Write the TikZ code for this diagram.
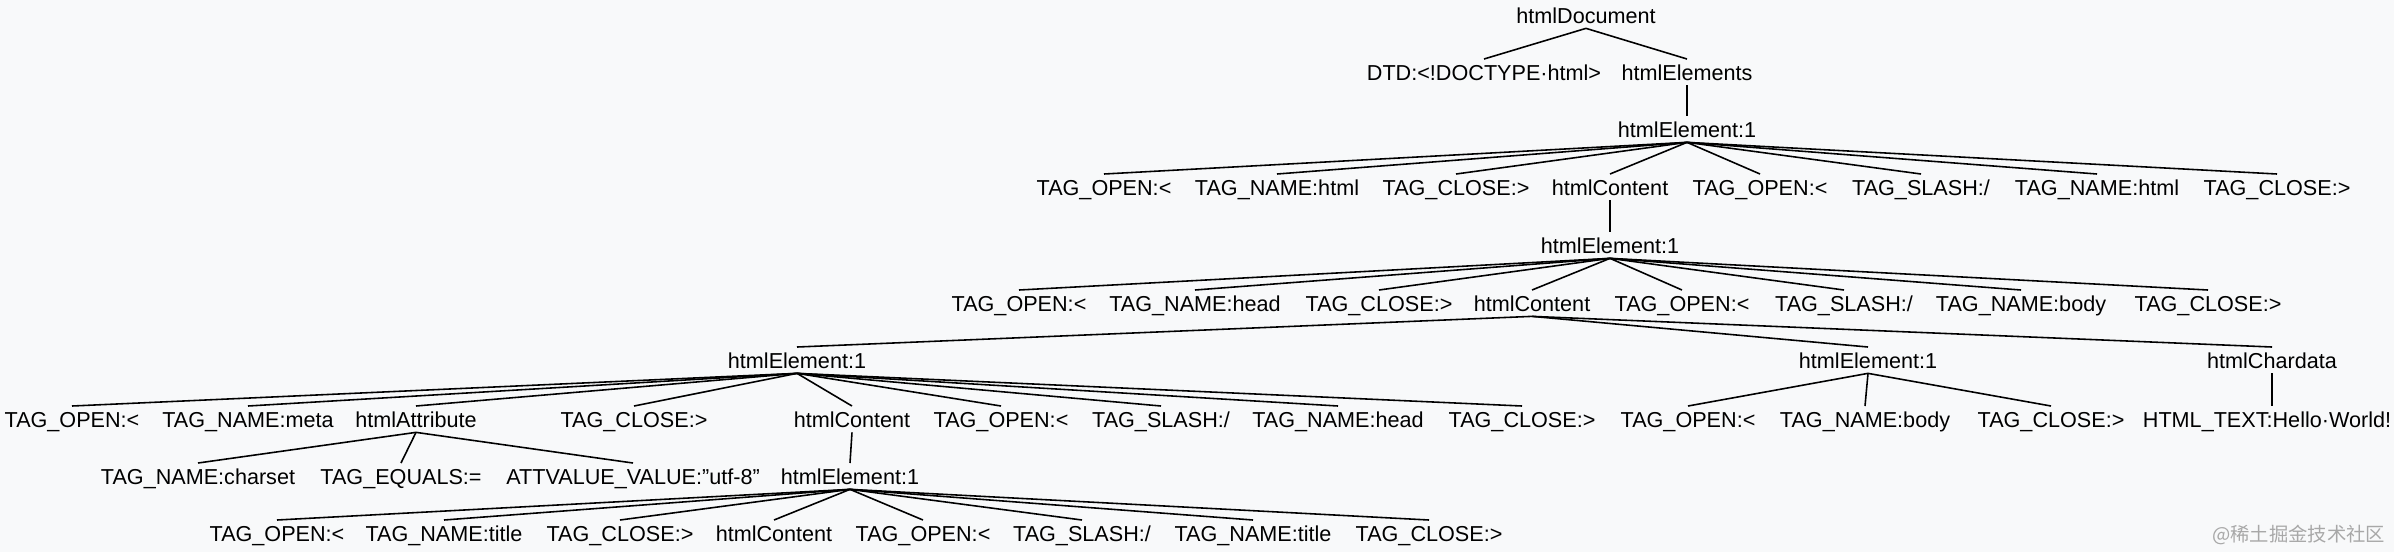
\documentclass[tikz,border=0pt]{standalone}
\usepackage{fontspec}
\setmainfont{Liberation Sans}
\newfontfamily\cjk{Noto Sans CJK SC}
\usepackage{tikz}
\definecolor{bg}{HTML}{F8F9FA}
\definecolor{mark}{HTML}{A8A8A8}
\tikzstyle{tnode} = [inner xsep=0pt, inner ysep=2.6pt, text height=8.9pt, text depth=0pt, anchor=base, font=\fontsize{12.3}{14}\selectfont]

\begin{document}
\begin{tikzpicture}[x=0.02cm, y=-0.02cm, line width=0.9pt]
\fill[bg] (0,0) rectangle (2394,552);
\useasboundingbox (0,0) rectangle (2394,552);
\node[tnode] (doc) at (1586,23) {htmlDocument};
\node[tnode] (dtd) at (1484,80) {DTD:<!DOCTYPE·html>};
\node[tnode] (elems) at (1687,80) {htmlElements};
\node[tnode] (html) at (1687,137) {htmlElement:1};
\node[tnode] (h-open) at (1104,195) {TAG\_OPEN:<};
\node[tnode] (h-name) at (1277,195) {TAG\_NAME:html};
\node[tnode] (h-close) at (1456,195) {TAG\_CLOSE:>};
\node[tnode] (h-content) at (1610,195) {htmlContent};
\node[tnode] (h-eopen) at (1760,195) {TAG\_OPEN:<};
\node[tnode] (h-slash) at (1921,195) {TAG\_SLASH:/};
\node[tnode] (h-ename) at (2097,195) {TAG\_NAME:html};
\node[tnode] (h-eclose) at (2277,195) {TAG\_CLOSE:>};
\node[tnode] (head) at (1610,253) {htmlElement:1};
\node[tnode] (hd-open) at (1019,311) {TAG\_OPEN:<};
\node[tnode] (hd-name) at (1195,311) {TAG\_NAME:head};
\node[tnode] (hd-close) at (1379,311) {TAG\_CLOSE:>};
\node[tnode] (hd-content) at (1532,311) {htmlContent};
\node[tnode] (hd-eopen) at (1682,311) {TAG\_OPEN:<};
\node[tnode] (hd-slash) at (1844,311) {TAG\_SLASH:/};
\node[tnode] (hd-ename) at (2021,311) {TAG\_NAME:body};
\node[tnode] (hd-eclose) at (2208,311) {TAG\_CLOSE:>};
\node[tnode] (meta) at (797,368) {htmlElement:1};
\node[tnode] (body) at (1868,368) {htmlElement:1};
\node[tnode] (chardata) at (2272,368) {htmlChardata};
\node[tnode] (m-open) at (72,427) {TAG\_OPEN:<};
\node[tnode] (m-name) at (248,427) {TAG\_NAME:meta};
\node[tnode] (m-attr) at (416,427) {htmlAttribute};
\node[tnode] (m-close) at (634,427) {TAG\_CLOSE:>};
\node[tnode] (m-content) at (852,427) {htmlContent};
\node[tnode] (m-eopen) at (1001,427) {TAG\_OPEN:<};
\node[tnode] (m-slash) at (1161,427) {TAG\_SLASH:/};
\node[tnode] (m-ename) at (1338,427) {TAG\_NAME:head};
\node[tnode] (m-eclose) at (1522,427) {TAG\_CLOSE:>};
\node[tnode] (b-open) at (1688,427) {TAG\_OPEN:<};
\node[tnode] (b-name) at (1865,427) {TAG\_NAME:body};
\node[tnode] (b-close) at (2051,427) {TAG\_CLOSE:>};
\node[tnode] (text) at (2267,427) {HTML\_TEXT:Hello·World!};
\node[tnode] (a-name) at (198,484) {TAG\_NAME:charset};
\node[tnode] (a-eq) at (401,484) {TAG\_EQUALS:=};
\node[tnode] (a-val) at (633,484) {ATTVALUE\_VALUE:\symbol{34}utf-8\symbol{34}};
\node[tnode] (title) at (850,484) {htmlElement:1};
\node[tnode] (t-open) at (277,541) {TAG\_OPEN:<};
\node[tnode] (t-name) at (444,541) {TAG\_NAME:title};
\node[tnode] (t-close) at (620,541) {TAG\_CLOSE:>};
\node[tnode] (t-content) at (774,541) {htmlContent};
\node[tnode] (t-eopen) at (923,541) {TAG\_OPEN:<};
\node[tnode] (t-slash) at (1082,541) {TAG\_SLASH:/};
\node[tnode] (t-ename) at (1253,541) {TAG\_NAME:title};
\node[tnode] (t-eclose) at (1429,541) {TAG\_CLOSE:>};
\node[anchor=base east, inner sep=0pt, text=mark, font=\cjk\fontsize{11}{13}\selectfont] (wm) at (2386,541) {@稀土掘金技术社区};
\draw (doc.south) -- (dtd.north);
\draw (doc.south) -- (elems.north);
\draw (elems.south) -- (html.north);
\draw (html.south) -- (h-open.north);
\draw (html.south) -- (h-name.north);
\draw (html.south) -- (h-close.north);
\draw (html.south) -- (h-content.north);
\draw (html.south) -- (h-eopen.north);
\draw (html.south) -- (h-slash.north);
\draw (html.south) -- (h-ename.north);
\draw (html.south) -- (h-eclose.north);
\draw (h-content.south) -- (head.north);
\draw (head.south) -- (hd-open.north);
\draw (head.south) -- (hd-name.north);
\draw (head.south) -- (hd-close.north);
\draw (head.south) -- (hd-content.north);
\draw (head.south) -- (hd-eopen.north);
\draw (head.south) -- (hd-slash.north);
\draw (head.south) -- (hd-ename.north);
\draw (head.south) -- (hd-eclose.north);
\draw (hd-content.south) -- (meta.north);
\draw (hd-content.south) -- (body.north);
\draw (hd-content.south) -- (chardata.north);
\draw (meta.south) -- (m-open.north);
\draw (meta.south) -- (m-name.north);
\draw (meta.south) -- (m-attr.north);
\draw (meta.south) -- (m-close.north);
\draw (meta.south) -- (m-content.north);
\draw (meta.south) -- (m-eopen.north);
\draw (meta.south) -- (m-slash.north);
\draw (meta.south) -- (m-ename.north);
\draw (meta.south) -- (m-eclose.north);
\draw (m-attr.south) -- (a-name.north);
\draw (m-attr.south) -- (a-eq.north);
\draw (m-attr.south) -- (a-val.north);
\draw (m-content.south) -- (title.north);
\draw (title.south) -- (t-open.north);
\draw (title.south) -- (t-name.north);
\draw (title.south) -- (t-close.north);
\draw (title.south) -- (t-content.north);
\draw (title.south) -- (t-eopen.north);
\draw (title.south) -- (t-slash.north);
\draw (title.south) -- (t-ename.north);
\draw (title.south) -- (t-eclose.north);
\draw (body.south) -- (b-open.north);
\draw (body.south) -- (b-name.north);
\draw (body.south) -- (b-close.north);
\draw (chardata.south) -- (chardata.south |- text.north);
\end{tikzpicture}
\end{document}
